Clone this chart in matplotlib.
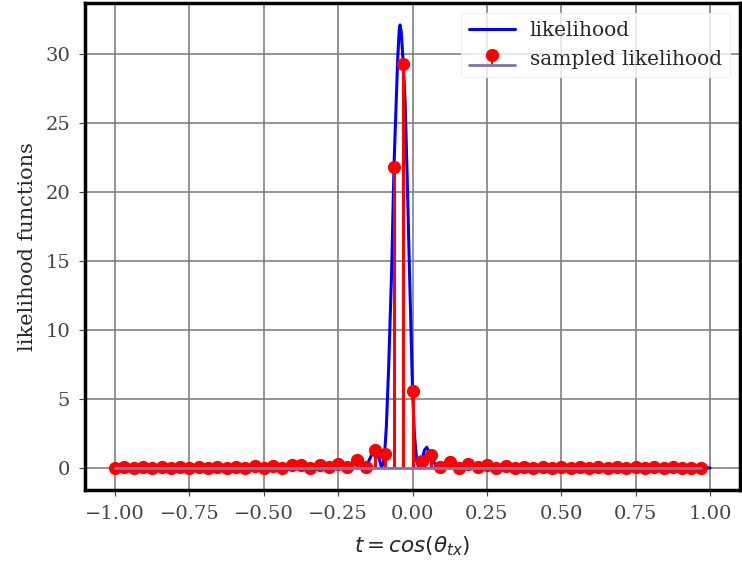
import numpy as np
import matplotlib
matplotlib.use('Agg')
import matplotlib.pyplot as plt

plt.style.use('seaborn-v0_8-white')
plt.rcParams['font.family'] = ['DejaVu Serif']

# continuous likelihood
t_line = [-1.0, -0.6, -0.4, -0.3125, -0.28, -0.25, -0.22, -0.1875, -0.17, -0.158,
          -0.145, -0.13, -0.12, -0.11, -0.104, -0.097, -0.094, -0.088, -0.08,
          -0.07, -0.0625, -0.055, -0.05, -0.045, -0.042, -0.038, -0.03125,
          -0.025, -0.018, -0.01, 0.0, 0.006, 0.014, 0.021, 0.03125, 0.04,
          0.048, 0.056, 0.0625, 0.075, 0.084, 0.094, 0.11, 0.125, 0.14,
          0.156, 0.1875, 0.22, 0.25, 0.4, 0.6, 1.0]
l_line = [0.0, 0.02, 0.05, 0.2, 0.05, 0.25, 0.1, 0.55, 0.3, 0.03,
          0.6, 1.3, 1.2, 0.5, 0.0, 0.5, 1.0, 3.0, 7.5,
          14.5, 21.8, 26.5, 29.6, 31.7, 32.1, 31.6, 29.3,
          26.5, 21.0, 14.0, 5.6, 2.5, 0.5, 0.0, 0.5, 1.3,
          1.5, 1.1, 0.9, 0.3, 0.0, 0.1, 0.3, 0.4, 0.2,
          0.0, 0.3, 0.05, 0.2, 0.05, 0.02, 0.0]

# sampled likelihood, 64 samples from -1 in steps of 1/32
t_samp = np.arange(64) / 32.0 - 1.0
l_samp = [0.02, 0.06, 0.02, 0.06, 0.03, 0.07, 0.02, 0.07, 0.03, 0.08,
          0.02, 0.08, 0.03, 0.09, 0.02, 0.12, 0.03, 0.15, 0.02, 0.18,
          0.2, 0.03, 0.2, 0.05, 0.25, 0.08, 0.55, 0.05, 1.3, 1.0,
          21.8, 29.3, 5.6, 0.5, 0.9, 0.1, 0.4, 0.0, 0.3, 0.05,
          0.2, 0.03, 0.12, 0.02, 0.1, 0.03, 0.08, 0.02, 0.07, 0.03,
          0.06, 0.02, 0.06, 0.03, 0.05, 0.02, 0.05, 0.03, 0.04, 0.02,
          0.04, 0.02, 0.03, 0.02]

fig = plt.figure(figsize=(7.42, 5.62), dpi=100)
ax = fig.add_axes([0.115, 0.128, 0.882, 0.867])

ax.plot(t_line, l_line, color='blue', lw=2.2, label='likelihood')
ml, sl, bl = ax.stem(t_samp, l_samp, linefmt='r-', markerfmt='ro', basefmt='C3-',
                     label='sampled likelihood')
ml.set_markersize(8.5)
sl.set_linewidth(2.2)
bl.set_color('#8172B2')
bl.set_linewidth(2)

ax.grid(True, color='grey', lw=1.2)
ax.set_axisbelow(True)
for s in ax.spines.values():
    s.set_color('black')
    s.set_linewidth(2.5)
ax.tick_params(axis='both', labelsize=14, colors='#444444', length=4,
               direction='out', left=True, bottom=True, pad=7)
ax.set_xticks([-1.0, -0.75, -0.5, -0.25, 0.0, 0.25, 0.5, 0.75, 1.0])
ax.set_xlabel(r'$t = cos(\theta_{tx})$', fontsize=15.5, color='#262626', labelpad=8)
ax.set_ylabel('likelihood functions', fontsize=15, color='#262626', labelpad=6)
leg = ax.legend(loc='upper right', fontsize=14.5, frameon=True, framealpha=0.8,
                borderaxespad=0.5, handlelength=2.3, handletextpad=0.7)
leg.get_frame().set_edgecolor('#eeeeee')

fig.savefig('out.png', dpi=100)
